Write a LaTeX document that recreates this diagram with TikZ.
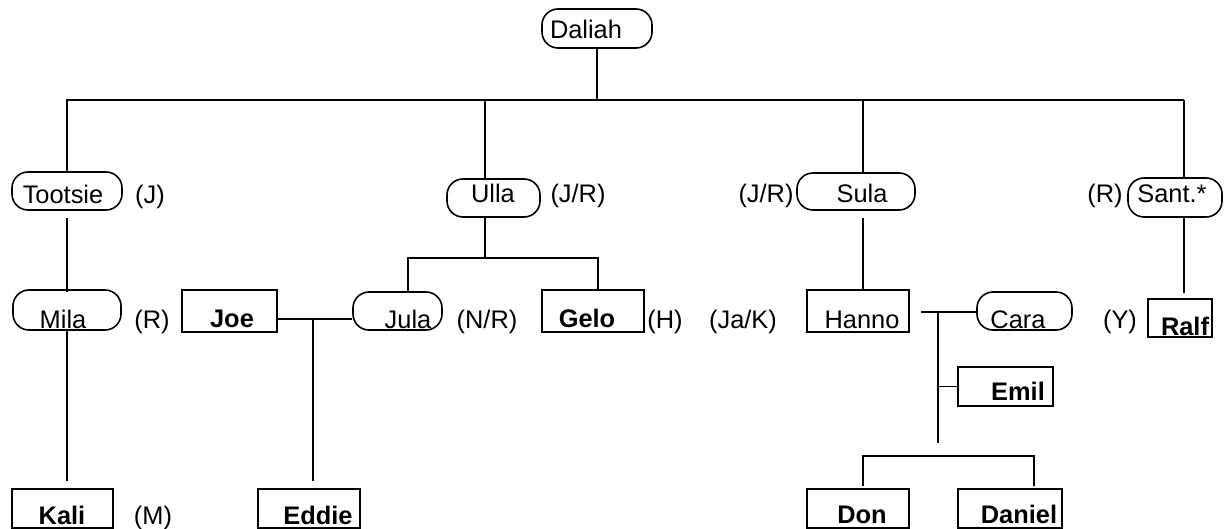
\documentclass[tikz,border=0pt]{standalone}
\usepackage{fontspec}
\setmainfont{Liberation Sans}
\begin{document}
\begin{tikzpicture}[x=0.5pt,y=-0.5pt, line width=0.8pt,
  pill/.style={draw, rounded corners=8pt, inner sep=0pt, fill=white},
  sq/.style={draw, inner sep=0pt, fill=white},
  txt/.style={anchor=base, inner sep=0pt, font=\fontsize{12.7}{15}\selectfont},
  btxt/.style={anchor=base, inner sep=0pt, font=\fontsize{12.7}{15}\selectfont\bfseries}]
\useasboundingbox (0,0) rectangle (1225,529);
% boxes
\node[pill, minimum width=55pt, minimum height=19.5pt] (daliah) at (597,28.5) {};
\node[pill, minimum width=55pt, minimum height=19pt] (tootsie) at (67,191) {};
\node[pill, minimum width=46.5pt, minimum height=19pt] (ulla) at (493.5,198) {};
\node[pill, minimum width=59pt, minimum height=18.5pt] (sula) at (856,191.5) {};
\node[pill, minimum width=47pt, minimum height=19.5pt] (sant) at (1175,197.5) {};
\node[pill, minimum width=54pt, minimum height=20pt] (mila) at (67,310) {};
\node[sq, minimum width=47.5pt, minimum height=21pt] (joe) at (229.5,311) {};
\node[pill, minimum width=44.5pt, minimum height=19pt] (jula) at (397.5,311) {};
\node[sq, minimum width=51pt, minimum height=21pt] (gelo) at (593,311) {};
\node[sq, minimum width=51pt, minimum height=21pt] (hanno) at (858,311) {};
\node[pill, minimum width=47.5pt, minimum height=19pt] (cara) at (1024.5,311) {};
\node[sq, minimum width=32pt, minimum height=19pt] (ralf) at (1180,318) {};
\node[sq, minimum width=47.5pt, minimum height=19.5pt] (emil) at (1005.5,386.5) {};
\node[sq, minimum width=50.5pt, minimum height=19.5pt] (kali) at (62.5,508.5) {};
\node[sq, minimum width=51pt, minimum height=19.5pt] (eddie) at (309,508.5) {};
\node[sq, minimum width=51pt, minimum height=19.5pt] (don) at (858,508.5) {};
\node[sq, minimum width=52pt, minimum height=19.5pt] (daniel) at (1010,508.5) {};
% texts
\node[txt] (t-daliah) at (586,39) {Daliah};
\node[txt] (t-tootsie) at (63,204) {Tootsie};
\node[txt] (l-tootsie) at (150,204) {(J)};
\node[txt] (t-ulla) at (493,203) {Ulla};
\node[txt] (l-ulla) at (578,203) {(J/R)};
\node[txt] (l-sula) at (766,203) {(J/R)};
\node[txt] (t-sula) at (862,203) {Sula};
\node[txt] (l-sant) at (1105,203) {(R)};
\node[txt] (t-sant) at (1172,203) {Sant.*};
\node[txt] (t-mila) at (63,328) {Mila};
\node[txt] (l-mila) at (152,328) {(R)};
\node[btxt] (t-joe) at (232,327) {Joe};
\node[txt] (t-jula) at (408,328) {Jula};
\node[txt] (l-jula) at (487,328) {(N/R)};
\node[btxt] (t-gelo) at (587,327) {Gelo};
\node[txt] (l-gelo) at (665,328) {(H)};
\node[txt] (l-hanno) at (743,328) {(Ja/K)};
\node[txt] (t-hanno) at (862,328) {Hanno};
\node[txt] (t-cara) at (1018,328) {Cara};
\node[txt] (l-ralf) at (1120,328) {(Y)};
\node[btxt] (t-ralf) at (1185,335) {Ralf};
\node[btxt] (t-emil) at (1018,400) {Emil};
\node[btxt] (t-kali) at (62,524) {Kali};
\node[txt] (l-kali) at (153,524) {(M)};
\node[btxt] (t-eddie) at (318,524) {Eddie};
\node[btxt] (t-don) at (862,523) {Don};
\node[btxt] (t-daniel) at (1019,523) {Daniel};
% junction coordinates
\coordinate (bus) at (598,100);
\coordinate (busR) at (1184,100);
\coordinate (jU) at (485,100);
\coordinate (jS) at (863,100);
\coordinate (uL) at (408,258);
\coordinate (uR) at (598,258);
\coordinate (jj) at (313,319);
\coordinate (rT) at (1184,293);
\coordinate (hc) at (938,312);
\coordinate (hcB) at (938,443);
\coordinate (dL) at (863,456);
\coordinate (dR) at (1034,456);
% connectors
\draw (daliah.south) -- (daliah.south |- bus);
\draw (tootsie.north) -- (tootsie.north |- bus) -- (busR);
\draw (jU) -- (jU |- ulla.north);
\draw (jS) -- (jS |- sula.north);
\draw (busR) -- (busR |- sant.north);
\draw[shorten <=3.5pt, shorten >=-1.5pt] (tootsie.south) -- (mila.north);
\draw[shorten >=3.5pt] (mila.south) -- (mila.south |- kali.north);
\draw (jU |- ulla.south) -- (jU |- uL);
\draw (uL |- jula.north) -- (uL) -- (uR) -- (uR |- gelo.north);
\draw (joe.east |- jj) -- (jula.west |- jj);
\draw[shorten >=3.5pt] (jj) -- (jj |- eddie.north);
\draw[shorten <=3.5pt, shorten >=-1pt] (jS |- sula.south) -- (jS |- hanno.north);
\draw (busR |- sant.south) -- (rT);
\draw[shorten <=5.5pt] (hanno.east |- hc) -- (cara.west |- hc);
\draw (hc) -- (hcB);
\draw (hc |- emil.west) -- (emil.west);
\draw[shorten <=1pt, shorten >=1pt] (dL |- don.north) -- (dL) -- (dR) -- (dR |- daniel.north);
\end{tikzpicture}
\end{document}
